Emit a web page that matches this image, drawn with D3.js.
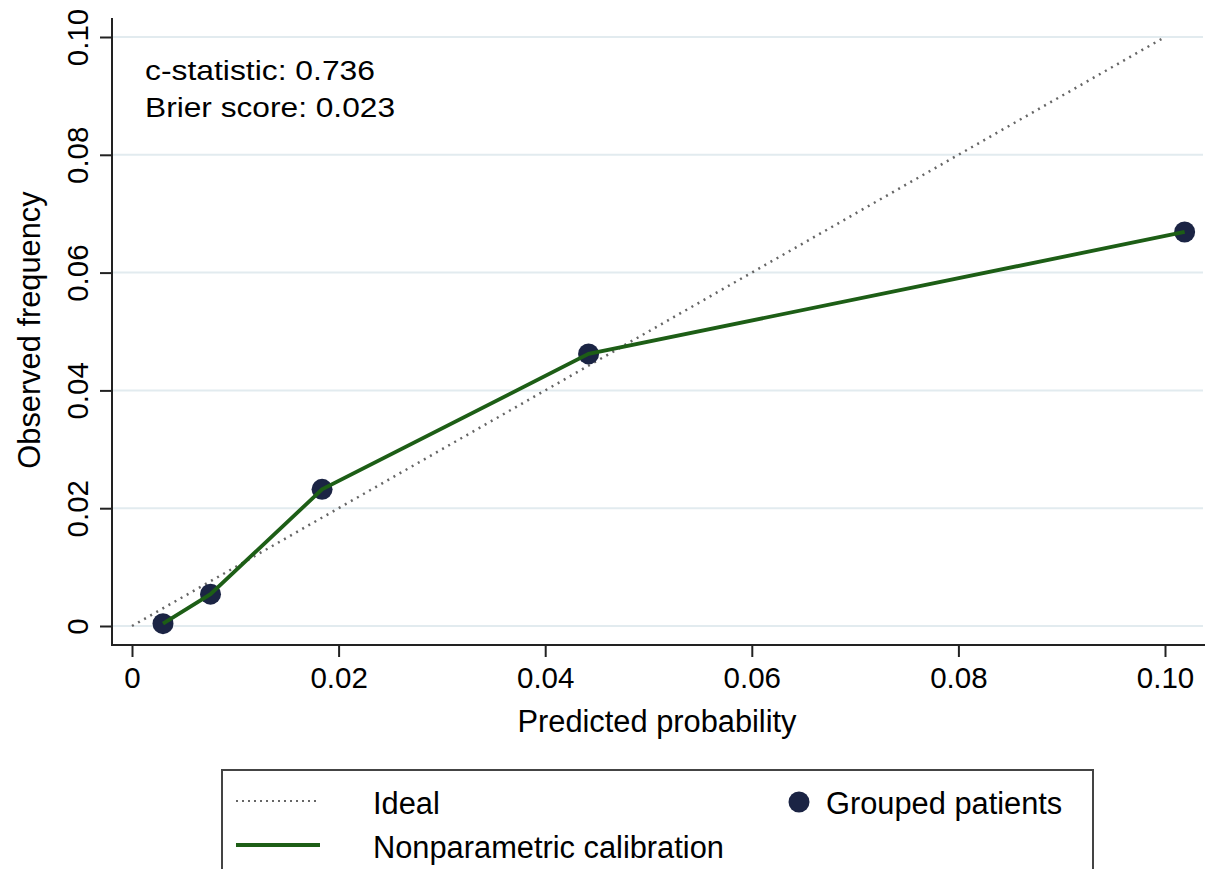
<!DOCTYPE html>
<html>
<head>
<meta charset="utf-8">
<script src="https://cdn.jsdelivr.net/npm/d3@7"></script>
<style>
  body { margin: 0; background: #fff; }
  text { font-family: "Liberation Sans", Arial, Helvetica, sans-serif; fill: #000; }
</style>
</head>
<body>
<svg></svg>
<script>
// Chart data
const predicted = [0.0030, 0.0076, 0.0184, 0.0442, 0.1019];
const observed = [0.0004, 0.0054, 0.0232, 0.0462, 0.0669];
const ideal = [0, 0.10];
const ticks = [0, 0.02, 0.04, 0.06, 0.08, 0.10];
const tickLabels = ["0", "0.02", "0.04", "0.06", "0.08", "0.10"];
const statsText = ["c-statistic: 0.736", "Brier score: 0.023"];
const legendItems = ["Ideal", "Nonparametric calibration", "Grouped patients"];

const width = 1211;
const height = 869;

const svg = d3.select("svg")
    .attr("width", width)
    .attr("height", height);

const xScale = d3.scaleLinear()
    .domain([0, 0.10])
    .range([132, 1165]);

const yScale = d3.scaleLinear()
    .domain([0, 0.10])
    .range([626, 37]);

const axisX = 112;   // y axis position
const axisY = 645;   // x axis position

// Grid lines
svg.selectAll("line.grid")
    .data(ticks)
    .enter()
    .append("line")
    .attr("class", "grid")
    .attr("x1", axisX)
    .attr("x2", 1203)
    .attr("y1", d => yScale(d))
    .attr("y2", d => yScale(d))
    .attr("stroke", "#e2ebef")
    .attr("stroke-width", 2);

// Axes
const fmt = d => tickLabels[ticks.indexOf(d)];

const gx = svg.append("g")
    .attr("transform", `translate(0, ${axisY})`)
    .call(d3.axisBottom(xScale).tickValues(ticks).tickFormat(fmt).tickSize(12).tickSizeOuter(0));
gx.select(".domain").remove();
gx.selectAll(".tick line").attr("stroke", "#222").attr("stroke-width", 2);
gx.selectAll(".tick text")
    .attr("y", 43)
    .attr("dy", 0)
    .style("font-size", "29.5px")
    .style("font-family", "'Liberation Sans', Arial, sans-serif")
    .attr("fill", "#000");

const gy = svg.append("g")
    .attr("transform", `translate(${axisX}, 0)`)
    .call(d3.axisLeft(yScale).tickValues(ticks).tickFormat(fmt).tickSize(12).tickSizeOuter(0));
gy.select(".domain").remove();
gy.selectAll(".tick line").attr("stroke", "#222").attr("stroke-width", 2);
gy.selectAll(".tick text")
    .attr("x", 0)
    .attr("y", -24)
    .attr("dy", 0)
    .attr("text-anchor", "middle")
    .attr("transform", "rotate(-90)")
    .style("font-size", "29.5px")
    .style("font-family", "'Liberation Sans', Arial, sans-serif")
    .attr("fill", "#000");

// Axis lines
svg.append("line")
    .attr("x1", axisX).attr("x2", axisX)
    .attr("y1", 18).attr("y2", axisY + 1)
    .attr("stroke", "#222").attr("stroke-width", 2);
svg.append("line")
    .attr("x1", axisX - 1).attr("x2", 1205)
    .attr("y1", axisY).attr("y2", axisY)
    .attr("stroke", "#222").attr("stroke-width", 2);

// Axis titles
svg.append("text")
    .attr("x", 657)
    .attr("y", 732)
    .attr("text-anchor", "middle")
    .style("font-size", "30.8px")
    .text("Predicted probability");

svg.append("text")
    .attr("transform", "translate(40, 330) rotate(-90)")
    .attr("text-anchor", "middle")
    .style("font-size", "30.8px")
    .text("Observed frequency");

// Ideal line
svg.append("line")
    .attr("x1", xScale(ideal[0])).attr("y1", yScale(ideal[0]))
    .attr("x2", xScale(ideal[1])).attr("y2", yScale(ideal[1]))
    .attr("stroke", "#666")
    .attr("stroke-width", 2.5)
    .attr("stroke-dasharray", "2, 5");

// Calibration curve
const pts = predicted.map((p, i) => ({ p: p, o: observed[i] }));
const curve = d3.line().x(d => xScale(d.p)).y(d => yScale(d.o));

svg.selectAll("circle.pt")
    .data(pts)
    .enter()
    .append("circle")
    .attr("class", "pt")
    .attr("cx", d => xScale(d.p))
    .attr("cy", d => yScale(d.o))
    .attr("r", 10.5)
    .attr("fill", "#1b2444");

// line sits on top of the dots like the original
svg.append("path")
    .datum(pts)
    .attr("d", curve)
    .attr("fill", "none")
    .attr("stroke", "#1d5e16")
    .attr("stroke-width", 3.8);

// Stats annotation
svg.selectAll("text.stat")
    .data(statsText)
    .enter()
    .append("text")
    .attr("class", "stat")
    .attr("x", 145)
    .attr("y", (d, i) => 80 + i * 37)
    .attr("textLength", (d, i) => i === 0 ? 230 : 250)
    .attr("lengthAdjust", "spacingAndGlyphs")
    .style("font-size", "27.5px")
    .text(d => d);

// Legend
const legend = svg.append("g");
legend.append("rect")
    .attr("x", 222)
    .attr("y", 770)
    .attr("width", 871)
    .attr("height", 130)
    .attr("fill", "#fff")
    .attr("stroke", "#444")
    .attr("stroke-width", 2);

legend.append("line")
    .attr("x1", 236).attr("x2", 320)
    .attr("y1", 801).attr("y2", 801)
    .attr("stroke", "#666")
    .attr("stroke-width", 2)
    .attr("stroke-dasharray", "2, 4");

legend.append("line")
    .attr("x1", 236).attr("x2", 320)
    .attr("y1", 845).attr("y2", 845)
    .attr("stroke", "#1d5e16")
    .attr("stroke-width", 3.8);

legend.append("circle")
    .attr("cx", 799)
    .attr("cy", 802)
    .attr("r", 10.5)
    .attr("fill", "#1b2444");

legend.selectAll("text")
    .data(legendItems)
    .enter()
    .append("text")
    .attr("x", (d, i) => i === 2 ? 826 : 373)
    .attr("y", (d, i) => i === 1 ? 858 : 814)
    .style("font-size", "30.8px")
    .text(d => d);
</script>
</body>
</html>
